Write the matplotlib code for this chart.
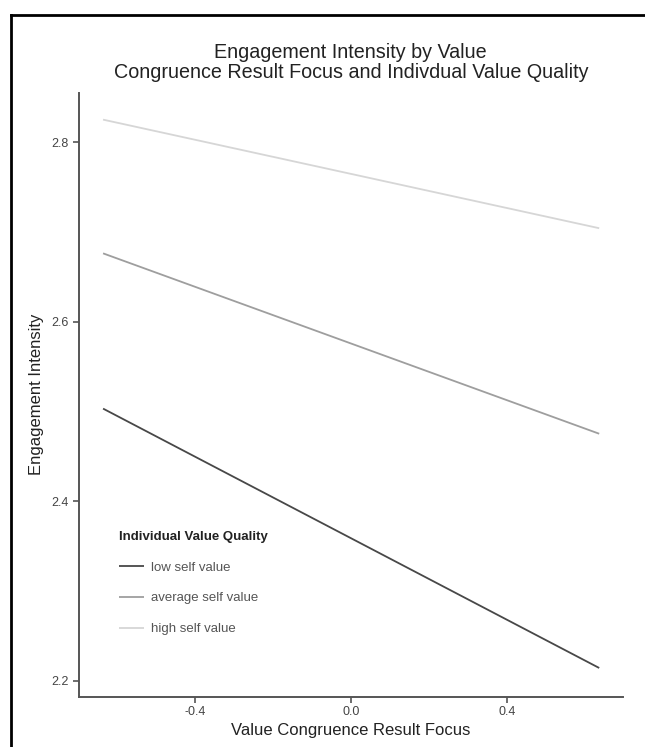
import matplotlib
matplotlib.use("Agg")
import matplotlib.pyplot as plt
from matplotlib.lines import Line2D

plt.rcParams['font.family'] = ['Liberation Sans', 'DejaVu Sans']

# Simple slopes of engagement intensity at -1 SD / +1 SD of result focus
x_points = [-0.636, 0.636]
series_names = ["low self value", "average self value", "high self value"]
low_vals = [2.503, 2.214]
avg_vals = [2.676, 2.475]
high_vals = [2.825, 2.704]
series_colors = ["#484848", "#9e9e9e", "#d6d6d6"]

x_ticks = [-0.4, 0.0, 0.4]
x_tick_labels = ["-0.4", "0.0", "0.4"]
y_ticks = [2.2, 2.4, 2.6, 2.8]
y_tick_labels = ["2.2", "2.4", "2.6", "2.8"]

W, H = 645, 747
fig = plt.figure(figsize=(W / 100, H / 100), dpi=100)
fig.patch.set_facecolor("white")

ax = fig.add_axes([78.5 / W, 1 - 696.7 / H, (623 - 78.5) / W, (696.7 - 92.7) / H])

for vals, name, col in zip([low_vals, avg_vals, high_vals], series_names, series_colors):
    ax.plot(x_points, vals, color=col, lw=1.3, label=name, solid_capstyle="butt")

ax.set_xlim(-0.699, 0.697)
ax.set_ylim(2.182, 2.855)
ax.set_xticks(x_ticks)
ax.set_xticklabels(x_tick_labels)
ax.set_yticks(y_ticks)
ax.set_yticklabels(y_tick_labels)

for side in ["top", "right"]:
    ax.spines[side].set_visible(False)
for side in ["left", "bottom"]:
    ax.spines[side].set_color("#555555")
    ax.spines[side].set_linewidth(1.4)

ax.tick_params(axis="both", colors="#555555", width=1.2, length=4,
               labelsize=9, labelcolor="#444444", pad=3)

ax.set_xlabel("Value Congruence Result Focus", fontsize=12, color="#222222", labelpad=3)
ax.set_ylabel("Engagement Intensity", fontsize=12, color="#222222", labelpad=5)

fig.text(350.75 / W, 1 - 52 / H, "Engagement Intensity by Value",
         ha="center", va="center", fontsize=14.2, color="#222222")
fig.text(350.75 / W, 1 - 72 / H, "Congruence Result Focus and Indivdual Value Quality",
         ha="center", va="center", fontsize=14.2, color="#222222")

leg = ax.legend(loc="upper left", bbox_to_anchor=(0.052, 0.294), frameon=False,
                title="Individual Value Quality", alignment="left",
                fontsize=9.5, title_fontproperties={"weight": "bold", "size": 9.5},
                handlelength=1.9, handletextpad=0.55, labelspacing=1.4)
for t in leg.get_texts():
    t.set_color("#555555")
leg.get_title().set_color("#222222")

# Outer frame
fig.add_artist(Line2D([11 / W, 11 / W], [0, 1 - 15 / H], color="black", lw=2,
                      transform=fig.transFigure))
fig.add_artist(Line2D([11 / W, 1], [1 - 15 / H, 1 - 15 / H], color="black", lw=2,
                      transform=fig.transFigure))

fig.savefig("out.png", dpi=100)
